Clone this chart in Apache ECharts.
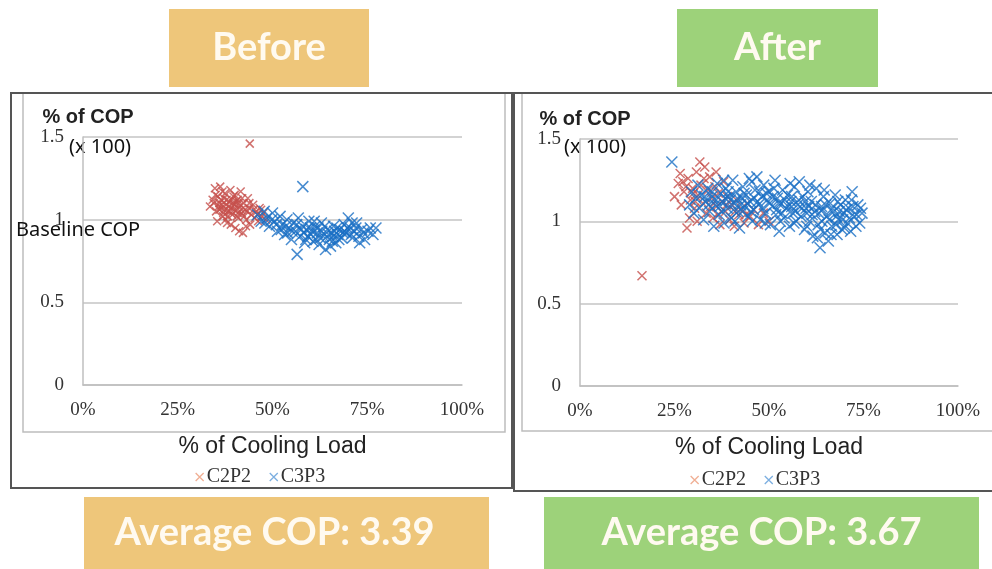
<!DOCTYPE html>
<html lang="en">
<head>
<meta charset="UTF-8">
<title>COP before / after</title>
<script src="https://cdn.jsdelivr.net/npm/echarts@6/dist/echarts.min.js"></script>
<style>
  body { margin: 0; background: #fff; }
  #main { width: 992px; height: 569px; }
</style>
</head>
<body>
<div id="main"></div>
<script>
// % of cooling load (x) vs % of COP (y)
var beforeC2P2 = [
  [33.5,1.08],[34.2,1.12],[34.8,1.19],[35.1,1.05],[35.6,1.14],[36.0,1.10],[36.2,1.20],[36.5,1.07],
  [36.9,1.02],[37.2,1.13],[37.5,1.16],[37.8,1.09],[38.0,0.98],[38.3,1.05],[38.6,1.11],[38.9,1.18],
  [39.1,1.07],[39.4,1.03],[39.7,1.14],[40.0,1.09],[40.2,0.95],[40.5,1.06],[40.8,1.12],[41.0,1.01],
  [41.3,1.08],[41.6,1.17],[41.9,1.04],[42.2,0.92],[42.4,1.10],[42.8,1.06],[43.1,1.00],[43.5,1.13],
  [43.8,1.07],[44.1,0.97],[44.4,1.03],[44.9,1.09],[45.3,1.01],[45.8,1.05],[46.2,0.99],[46.6,1.07],
  [47.1,1.02],[47.6,1.04],[48.3,1.00],[37.0,1.04],[38.4,1.08],[39.6,1.10],[40.9,1.04],[36.4,1.12],
  [42.0,1.13],[44.0,1.46],[35.4,0.99],[41.2,0.93],[43.0,0.96],
  [36.0,1.06],[36.7,1.09],[37.3,1.06],[37.9,1.12],[38.2,1.02],[38.8,1.05],[39.3,1.12],[39.9,1.06],
  [40.4,1.11],[40.6,1.02],[41.1,1.10],[41.7,1.06],[42.5,1.02],[43.3,1.05],[35.0,1.15],[35.8,1.08],
  [37.6,1.00],[39.0,0.97],[40.0,1.15],[43.9,1.10],[45.0,1.06],[46.0,1.03],[47.0,1.06],[34.5,1.10],
  [36.8,1.17]
];
var beforeC3P3 = [
  [46.0,1.03],[47.0,0.99],[47.8,1.05],[48.5,1.01],[49.2,0.96],[50.0,1.04],[50.6,0.99],[51.3,0.93],
  [52.0,1.02],[52.6,0.97],[53.2,0.91],[53.8,1.00],[54.4,0.95],[55.0,0.88],[55.5,0.98],[56.1,0.93],
  [56.5,0.79],[56.8,1.01],[57.3,0.90],[57.9,0.96],[58.0,1.20],[58.5,0.86],[59.0,0.94],[59.6,0.99],
  [60.1,0.91],[60.7,0.87],[61.2,0.96],[61.8,0.92],[62.3,0.85],[62.9,0.98],[63.4,0.90],[64.0,0.82],
  [64.5,0.94],[65.0,0.88],[65.6,0.92],[66.1,0.96],[66.7,0.86],[67.2,0.91],[67.8,0.94],[68.3,0.89],
  [68.9,0.97],[69.4,0.92],[70.0,1.01],[70.5,0.95],[71.1,0.89],[71.6,0.93],[72.2,0.98],[72.8,0.90],
  [73.5,0.94],[74.3,0.88],[75.2,0.93],[76.5,0.91],[77.3,0.95],[60.0,0.95],[63.0,0.93],[66.0,0.90],
  [69.0,0.93],[58.2,0.92],[54.0,0.92],[61.5,0.88],[67.0,0.95],[71.0,0.98],[65.3,0.84],[73.0,0.86],
  [48.0,0.98],[49.8,1.00],[51.0,0.97],[52.3,0.94],[53.5,0.96],[55.2,0.93],[56.4,0.97],[57.6,0.94],
  [59.3,0.90],[60.4,0.93],[61.0,0.99],[62.0,0.95],[62.6,0.89],[63.8,0.96],[64.8,0.91],[66.4,0.93],
  [67.5,0.88],[68.6,0.92],[69.7,0.95],[70.8,0.91],[72.0,0.95],[74.0,0.92],[75.8,0.95],[58.8,0.88],
  [65.8,0.87]
];
var afterC2P2 = [
  [16.4,0.67],[25.0,1.15],[26.0,1.23],[26.8,1.10],[27.5,1.18],[28.3,0.96],[28.6,1.26],[29.2,1.13],
  [29.8,1.20],[30.3,1.08],[30.8,1.30],[31.2,1.16],[31.7,1.36],[32.0,1.22],[32.5,1.11],[33.0,1.33],
  [33.4,1.05],[33.9,1.19],[34.3,1.27],[34.8,1.14],[35.2,1.02],[35.7,1.21],[36.1,1.09],[36.6,1.17],
  [37.0,0.98],[37.5,1.12],[38.0,1.24],[38.5,1.06],[39.0,1.15],[39.6,1.01],[40.2,1.10],[40.8,0.97],
  [41.4,1.13],[42.0,1.04],[42.7,1.08],[43.4,0.99],[44.2,1.11],[45.0,1.03],[46.0,1.07],[47.2,0.98],
  [48.5,1.05],[50.0,1.00],[29.0,1.02],[31.0,1.00],[36.0,1.30],[26.5,1.29],
  [28.0,1.21],[30.0,1.17],[32.8,1.26],[34.6,1.09],[36.4,1.04],[38.8,1.10],[41.0,1.06],[43.8,1.04],
  [27.2,1.24],[30.5,1.12]
];
var afterC3P3 = [
  [24.3,1.36],
  [29.0,1.10],[29.5,1.18],[30.1,1.05],[30.6,1.14],[31.2,1.22],[31.6,1.08],[32.1,1.16],[32.7,1.01],
  [33.2,1.12],[33.8,1.20],[34.3,1.06],[34.9,1.15],[35.4,0.97],[35.8,1.10],[36.3,1.23],[36.8,1.04],
  [37.2,1.17],[37.7,1.12],[38.1,0.99],[38.6,1.20],[39.0,1.08],[39.5,1.15],[40.0,1.02],[40.4,1.25],
  [40.9,1.11],[41.3,1.18],[41.8,1.06],[42.2,0.96],[42.7,1.14],[43.1,1.21],[43.6,1.09],[44.0,1.16],
  [44.5,1.03],[45.0,1.12],[45.4,1.24],[45.9,1.07],[46.3,1.19],[46.8,1.27],[47.2,1.10],[47.7,1.01],
  [48.1,1.15],[48.6,1.22],[49.0,1.05],[49.5,1.13],[50.0,1.18],[50.4,0.98],[50.9,1.09],[51.3,1.20],
  [51.8,1.04],[52.2,1.14],[52.7,0.94],[53.1,1.11],[53.6,1.19],[54.0,1.02],[54.5,1.08],[54.9,1.16],
  [55.4,0.97],[55.8,1.12],[56.3,1.05],[56.7,1.21],[57.2,1.00],[57.6,1.10],[58.0,1.24],[58.5,1.03],
  [58.9,1.15],[59.4,0.95],[59.8,1.08],[60.3,1.18],[60.7,1.00],[61.2,1.12],[61.6,0.91],[62.1,1.06],
  [62.5,1.20],[63.0,0.98],[63.5,0.84],[63.9,1.09],[64.4,1.15],[64.8,0.93],[65.3,1.03],[65.7,0.88],
  [66.2,1.11],[66.6,0.97],[67.1,1.06],[67.5,1.16],[68.0,0.92],[68.4,1.01],[68.9,1.10],[69.3,0.95],
  [69.8,1.05],[70.2,1.13],[70.7,0.99],[71.1,1.08],[71.6,0.94],[72.0,1.18],[72.5,1.03],[73.0,0.97],
  [73.5,1.10],[74.0,0.99],[74.6,1.05],[37.0,1.09],[39.8,1.13],[43.0,1.06],[47.0,1.12],[52.0,1.07],
  [56.0,1.09],[60.0,1.05],[64.0,1.00],[67.8,1.03],
  [33.0,1.15],[34.0,1.10],[35.0,1.18],[36.0,1.13],[37.5,1.06],[38.4,1.14],[39.2,1.18],[40.6,1.07],
  [41.6,1.14],[42.5,1.10],[43.4,1.17],[44.3,1.11],[45.2,1.06],[46.1,1.14],[47.5,1.18],[48.4,1.08],
  [49.3,1.17],[50.2,1.11],[51.1,1.15],[52.5,1.11],[53.4,1.05],[54.2,1.13],[55.1,1.09],[56.0,1.15],
  [57.0,1.06],[57.9,1.13],[58.7,1.08],[59.6,1.12],[60.5,1.09],[61.4,1.04],[62.3,1.10],[63.2,1.05],
  [64.1,1.07],[65.0,1.10],[65.9,1.01],[66.8,1.08],[67.7,0.98],[68.6,1.06],[69.5,1.01],[70.4,1.07],
  [71.3,1.02],[72.2,1.09],[73.2,1.04],[63.6,0.95],[66.4,0.92],[62.8,0.90],[60.0,0.97],[56.6,0.99],
  [53.0,1.00],[49.0,0.99],[45.6,1.00],[41.0,1.00],[70.0,0.96],[68.2,1.12],[71.8,1.13],[74.2,1.08],
  [64.6,1.19],[60.8,1.22],[55.6,1.23],[51.6,1.25],[44.8,1.26],[38.0,1.25]
];
var seriesNames = ['C2P2', 'C3P3'];
var panelTitles = ['Before', 'After'];
var averageCOP = ['3.39', '3.67'];

var RED = '#c64f4b';
var BLUE = '#1a6fc4';
var ORANGE = '#eec67a';
var GREEN = '#9dd27a';
var CROSS = 'path://M0,0L10,10M10,0L0,10';

function xAxisFor(i) {
  return {
    gridIndex: i, type: 'value', min: 0, max: 100, interval: 25,
    axisLine: { show: true, lineStyle: { color: '#bfbfbf', width: 1.5 } },
    axisTick: { show: false },
    splitLine: { show: false },
    axisLabel: { formatter: '{value}%', margin: 16, color: '#333', fontFamily: 'Liberation Serif', fontSize: 19 },
    name: '% of Cooling Load', nameLocation: 'middle', nameGap: 50,
    nameTextStyle: { fontFamily: 'Liberation Sans', fontSize: 23, color: '#222' }
  };
}
function yAxisFor(i) {
  return {
    gridIndex: i, type: 'value', min: 0, max: 1.5, interval: 0.5,
    axisLine: { show: true, lineStyle: { color: '#bfbfbf', width: 1.5 } },
    axisTick: { show: false },
    splitLine: { show: true, lineStyle: { color: '#c4c4c4', width: 1.5 } },
    axisLabel: { margin: 19, color: '#333', fontFamily: 'Liberation Serif', fontSize: 19 },
    name: '% of COP', nameLocation: 'end', nameGap: 10,
    nameTextStyle: { fontFamily: 'Liberation Sans', fontWeight: 'bold', fontSize: 20, color: '#222', padding: [0, 0, 0, 10] }
  };
}
function scatter(name, data, i, color, size) {
  return {
    name: name, type: 'scatter', xAxisIndex: i, yAxisIndex: i, data: data,
    symbol: CROSS, symbolSize: size,
    itemStyle: { color: 'transparent', borderColor: color, borderWidth: 1.5, opacity: 0.8 }
  };
}
function legendFor(left, top) {
  return {
    left: left, top: top, itemWidth: 8, itemHeight: 8, itemGap: 18,
    textStyle: { fontFamily: 'Liberation Serif', fontSize: 20, color: '#333', padding: [0, 0, 0, -2] },
    data: [
      { name: seriesNames[0], icon: CROSS, itemStyle: { color: 'transparent', borderColor: '#ec9a78', borderWidth: 1.3 } },
      { name: seriesNames[1], icon: CROSS, itemStyle: { color: 'transparent', borderColor: '#5a9ad8', borderWidth: 1.3 } }
    ],
    selectedMode: false
  };
}
function label(text, x, y, size, weight) {
  return { type: 'text', left: x, top: y, style: { text: text, fill: '#111', font: (weight || 'normal') + ' ' + size + 'px "Noto Sans"' } };
}
function banner(x, y, w, h, color, text, dx) {
  return {
    type: 'group', left: x, top: y,
    children: [
      { type: 'rect', shape: { width: w, height: h }, style: { fill: color } },
      { type: 'text', x: w / 2 + (dx || 0), y: h / 2, style: { text: text, fill: '#fffaf0', align: 'center', verticalAlign: 'middle', font: 'bold 38px Lato' } }
    ]
  };
}

var myChart = echarts.init(document.getElementById('main'));
myChart.setOption({
  animation: false,
  grid: [
    { left: 83, top: 137, width: 379, height: 248 },
    { left: 580, top: 139, width: 378, height: 247 }
  ],
  xAxis: [xAxisFor(0), xAxisFor(1)],
  yAxis: [yAxisFor(0), yAxisFor(1)],
  legend: [legendFor(190, 462), legendFor(685, 465)],
  series: [
    scatter(seriesNames[0], beforeC2P2, 0, RED, 8),
    scatter(seriesNames[1], beforeC3P3, 0, BLUE, 11),
    scatter(seriesNames[0], afterC2P2, 1, RED, 9),
    scatter(seriesNames[1], afterC3P3, 1, BLUE, 11)
  ],
  graphic: [
    // panel frames
    { type: 'rect', shape: { x: 11, y: 93, width: 501, height: 395 }, style: { fill: 'none', stroke: '#555', lineWidth: 2 }, z: -1 },
    { type: 'polyline', shape: { points: [[23, 94], [23, 432], [505, 432], [505, 94]] }, style: { fill: 'none', stroke: '#bdbdbd', lineWidth: 1.5 }, z: -1 },
    { type: 'polyline', shape: { points: [[993, 93], [514, 93], [514, 491], [993, 491]] }, style: { fill: 'none', stroke: '#555', lineWidth: 2 }, z: -1 },
    { type: 'polyline', shape: { points: [[522, 94], [522, 431], [993, 431]] }, style: { fill: 'none', stroke: '#bdbdbd', lineWidth: 1.5 }, z: -1 },
    label('(x 100)', 69, 137, 20),
    label('Baseline COP', 16, 220, 20),
    label('(x 100)', 564, 137, 20),
    banner(169, 9, 200, 78, ORANGE, panelTitles[0]),
    banner(677, 9, 201, 78, GREEN, panelTitles[1]),
    banner(84, 497, 405, 72, ORANGE, 'Average COP: ' + averageCOP[0], -12),
    banner(544, 497, 435, 72, GREEN, 'Average COP: ' + averageCOP[1])
  ]
});
</script>
</body>
</html>
